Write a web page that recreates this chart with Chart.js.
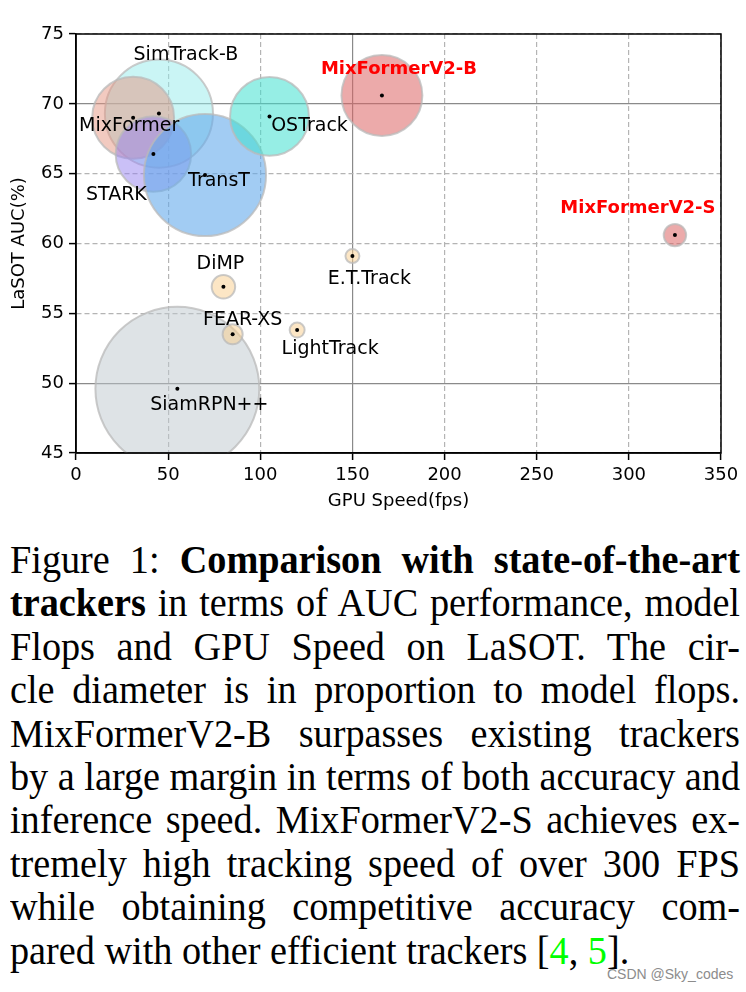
<!DOCTYPE html>
<html>
<head>
<meta charset="utf-8">
<script src="https://cdn.jsdelivr.net/npm/chart.js@4.4.0/dist/chart.umd.min.js"></script>
<style>
  html, body { margin: 0; padding: 0; background: #fff; }
  #wrap { position: relative; width: 746px; height: 992px; overflow: hidden; }
  #chartBox { position: absolute; left: 0; top: 0; width: 746px; height: 520px; }
  #caption {
    position: absolute; left: 10px; top: 538px; width: 730px;
    font-family: "Liberation Serif", "Times New Roman", serif;
    font-size: 41px; line-height: 43.4px; color: #000;
  }
  #caption .line { white-space: nowrap; transform-origin: 0 0; }
  #caption b { font-weight: bold; }
  .cite { color: #00ff00; }
  #mark {
    position: absolute; left: 607px; top: 966px;
    font-family: "Liberation Sans", Arial, sans-serif; font-size: 14px; color: #8c8c8c;
  }
</style>
</head>
<body>
<div id="wrap">
  <div id="chartBox"><canvas id="chart" width="746" height="520"></canvas></div>
  <div id="caption">
    <div class="line"><span>Figure 1: <b>Comparison with state-of-the-art</b></span></div>
    <div class="line"><span><b>trackers</b> in terms of AUC performance, model</span></div>
    <div class="line"><span>Flops and GPU Speed on LaSOT. The cir-</span></div>
    <div class="line"><span>cle diameter is in proportion to model flops.</span></div>
    <div class="line"><span>MixFormerV2-B surpasses existing trackers</span></div>
    <div class="line"><span>by a large margin in terms of both accuracy and</span></div>
    <div class="line"><span>inference speed. MixFormerV2-S achieves ex-</span></div>
    <div class="line"><span>tremely high tracking speed of over 300 FPS</span></div>
    <div class="line"><span>while obtaining competitive accuracy com-</span></div>
    <div class="line last"><span>pared with other efficient trackers [<span class="cite">4</span>, <span class="cite">5</span>].</span></div>
  </div>
  <div id="mark">CSDN @Sky_codes</div>
</div>
<script>
// data
const trackers = ['SiamRPN++', 'DiMP', 'FEAR-XS', 'LightTrack', 'E.T.Track', 'SimTrack-B',
                  'MixFormer', 'STARK', 'TransT', 'OSTrack', 'MixFormerV2-B', 'MixFormerV2-S'];
const gpuSpeed = [55, 80, 85, 120, 150, 45, 31, 42, 70, 105, 166, 325];
const lasotAuc = [49.6, 56.9, 53.5, 53.8, 59.1, 69.3, 69.0, 66.4, 64.9, 69.1, 70.6, 60.6];
const flops    = [48.2, 6.9, 5.9, 4.4, 4.1, 31.8, 24.1, 22.2, 35.9, 23.2, 23.8, 6.6];
const xTicks = [0, 50, 100, 150, 200, 250, 300, 350];
const yTicks = [45, 50, 55, 60, 65, 70, 75];

// styling
const PX_PER_GFLOP = 1.7;
const fills = [
  'rgba(190,200,205,0.5)',   // SiamRPN++
  'rgba(250,205,140,0.5)',   // DiMP
  'rgba(250,205,140,0.5)',   // FEAR-XS
  'rgba(250,205,140,0.5)',   // LightTrack
  'rgba(250,205,140,0.5)',   // E.T.Track
  'rgba(150,235,235,0.5)',   // SimTrack-B
  'rgba(230,150,130,0.5)',   // MixFormer
  'rgba(150,130,240,0.5)',   // STARK
  'rgba(100,170,235,0.6)',   // TransT
  'rgba(64,224,208,0.55)',   // OSTrack
  'rgba(220,100,100,0.55)',  // MixFormerV2-B
  'rgba(220,100,100,0.55)'   // MixFormerV2-S
];
const highlight = ['MixFormerV2-B', 'MixFormerV2-S'];
// label centre, offset from the point in px
const labelOffsets = [[32, 16], [-3, -23], [10, -14], [33, 19], [17, 23], [27, -59],
                      [-4, 8], [-37, 41], [14, 6], [40, 9.5], [17, -26], [-37, -27]];
const solidX = [150];
const solidY = [50, 70];

const FONT = 'DejaVu Sans';

const points = trackers.map((t, i) => ({ x: gpuSpeed[i], y: lasotAuc[i] }));

const gridColor = solid => ctx => (ctx.tick && solid.includes(ctx.tick.value)) ? '#8a8a8a' : '#b4b4b4';
const gridDash = solid => ctx => {
  if (!ctx.tick) return [];
  return solid.includes(ctx.tick.value) ? [] : [5, 3];
};

const annotate = {
  id: 'annotate',
  afterDatasetsDraw(chart) {
    const { ctx, scales: { x, y } } = chart;
    ctx.save();
    ctx.textAlign = 'center';
    ctx.textBaseline = 'middle';
    trackers.forEach((t, i) => {
      const px = x.getPixelForValue(gpuSpeed[i]) + labelOffsets[i][0];
      const py = y.getPixelForValue(lasotAuc[i]) + labelOffsets[i][1];
      if (highlight.includes(t)) {
        ctx.font = 'bold 18px "' + FONT + '"';
        ctx.fillStyle = '#ff0000';
      } else {
        ctx.font = '19px "' + FONT + '"';
        ctx.fillStyle = '#000';
      }
      ctx.fillText(t, px, py);
    });
    ctx.restore();
  },
  afterDraw(chart) {
    const { ctx, chartArea: a } = chart;
    ctx.save();
    ctx.strokeStyle = '#000';
    ctx.lineWidth = 1.5;
    ctx.strokeRect(a.left, a.top, a.right - a.left, a.bottom - a.top);
    ctx.restore();
  }
};

const axisCommon = {
  type: 'linear',
  ticks: { font: { family: FONT, size: 18 }, color: '#000', padding: 5, maxRotation: 0 },
  border: { color: '#000', width: 1.5 },
  title: { display: true, color: '#000', font: { family: FONT, size: 18 } }
};

new Chart(document.getElementById('chart'), {
  type: 'bubble',
  data: {
    datasets: [
      {
        label: 'centre',
        data: points.map(p => ({ x: p.x, y: p.y, r: 2 })),
        backgroundColor: '#000',
        borderWidth: 0,
        clip: 0
      },
      {
        label: 'trackers',
        data: points.map((p, i) => ({ x: p.x, y: p.y, r: flops[i] * PX_PER_GFLOP })),
        backgroundColor: fills,
        borderColor: 'rgba(185,185,185,0.75)',
        borderWidth: 2,
        clip: 0
      }
    ]
  },
  options: {
    responsive: false,
    animation: false,
    events: [],
    layout: { autoPadding: false, padding: { top: 34, right: 25, left: 0, bottom: 0 } },
    plugins: { legend: { display: false }, tooltip: { enabled: false } },
    scales: {
      x: {
        ...axisCommon,
        min: 0, max: 350,
        afterBuildTicks: s => { s.ticks = xTicks.map(v => ({ value: v })); },
        afterFit: s => { s.height = 67; },
        grid: { color: gridColor(solidX), lineWidth: 1.2, tickLength: 7, tickColor: '#000', tickWidth: 1.5 },
        border: { ...axisCommon.border, dash: gridDash(solidX) },
        title: { ...axisCommon.title, text: 'GPU Speed(fps)', padding: { top: 0, bottom: 8 } }
      },
      y: {
        ...axisCommon,
        min: 45, max: 75,
        afterBuildTicks: s => { s.ticks = yTicks.map(v => ({ value: v })); },
        afterFit: s => { s.width = 76; },
        grid: { color: gridColor(solidY), lineWidth: 1.2, tickLength: 7, tickColor: '#000', tickWidth: 1.5 },
        border: { ...axisCommon.border, dash: gridDash(solidY) },
        title: { ...axisCommon.title, text: 'LaSOT AUC(%)', padding: { top: 9, bottom: 0 } }
      }
    }
  },
  plugins: [annotate]
});

// caption: narrow, justified lines like the scanned figure
(function () {
  const W = 730;
  const lines = Array.from(document.querySelectorAll('#caption .line'));
  const nat = lines.map(l => l.firstElementChild.getBoundingClientRect().width);
  const s = W / Math.max(...nat);
  lines.forEach((l, i) => {
    if (!l.classList.contains('last')) {
      const spaces = (l.textContent.match(/ /g) || []).length;
      l.style.wordSpacing = ((W / s - nat[i]) / spaces) + 'px';
    }
    l.style.transform = 'scaleX(' + s + ')';
  });
})();
</script>
</body>
</html>
